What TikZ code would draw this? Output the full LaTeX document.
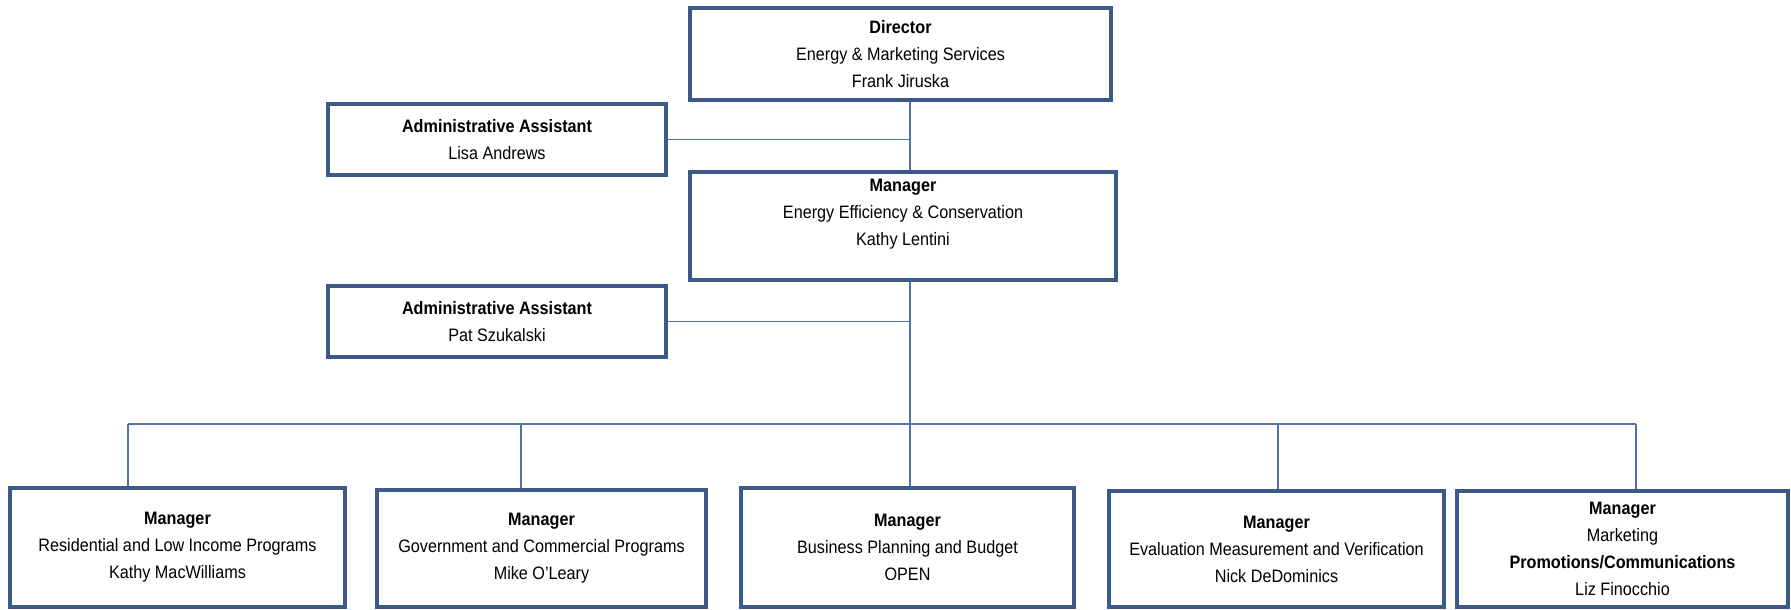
\documentclass[tikz,border=0pt]{standalone}
\usepackage{fontspec}
\setmainfont[FakeStretch=0.9]{Liberation Sans}
\usepackage{tikz}
\definecolor{boxblue}{RGB}{60,90,135}
\definecolor{lineblue}{RGB}{79,114,170}
\tikzset{
  orgbox/.style={draw=boxblue, line width=4pt, fill=white, rectangle, inner sep=0pt,
    align=center, font=\fontsize{18}{27}\selectfont},
  orgline/.style={draw=lineblue, line width=1.8pt}
}

\begin{document}
\begin{tikzpicture}[x=1pt,y=-1pt]
    \useasboundingbox (0,0) rectangle (1791,610);

    \node[orgbox, minimum width=421pt, minimum height=92pt] (dir) at (900.5,54)
      {\textbf{Director}\\Energy \& Marketing Services\\Frank Jiruska};
    \node[orgbox, minimum width=338pt, minimum height=71pt] (admA) at (497,139.5)
      {\textbf{Administrative Assistant}\\Lisa Andrews};
    \node[orgbox, minimum width=426pt, minimum height=108pt] (mgr) at (903,226)
      {\textbf{Manager}\\Energy Efficiency \& Conservation\\Kathy Lentini\\ };
    \node[orgbox, minimum width=338pt, minimum height=71pt] (admB) at (497,321.5)
      {\textbf{Administrative Assistant}\\Pat Szukalski};

    \node[orgbox, minimum width=335pt, minimum height=119pt] (resi) at (177.5,547.5)
      {\textbf{Manager}\\Residential and Low Income Programs\\Kathy MacWilliams};
    \node[orgbox, minimum width=329pt, minimum height=117pt] (govt) at (541.5,548.5)
      {\textbf{Manager}\\Government and Commercial Programs\\Mike O'Leary};
    \node[orgbox, minimum width=333pt, minimum height=119pt] (budget) at (907.5,547.5)
      {\textbf{Manager}\\Business Planning and Budget\\OPEN};
    \node[orgbox, minimum width=335pt, minimum height=116pt] (emv) at (1276.5,549)
      {\textbf{Manager}\\Evaluation Measurement and Verification\\Nick DeDominics};
    \node[orgbox, minimum width=331pt, minimum height=116pt] (mktg) at (1622.5,549)
      {\textbf{Manager}\\Marketing\\\textbf{Promotions/Communications}\\Liz Finocchio};

    % trunk and bus
    \coordinate (bus) at (910,424);
    \coordinate (dropA) at (128,424);
    \coordinate (dropB) at (521,424);
    \coordinate (dropD) at (1278,424);
    \coordinate (dropE) at (1636,424);

    \draw[orgline] (dir.south -| bus) -- (mgr.north -| bus);
    \draw[orgline] (admA.east) -- (admA.east -| bus);
    \draw[orgline] (mgr.south -| bus) -- (budget.north -| bus);
    \draw[orgline] (admB.east) -- (admB.east -| bus);
    \draw[orgline] (dropA) -- (dropE);
    \draw[orgline] (dropA) -- (dropA |- resi.north);
    \draw[orgline] (dropB) -- (dropB |- govt.north);
    \draw[orgline] (dropD) -- (dropD |- emv.north);
    \draw[orgline] (dropE) -- (dropE |- mktg.north);
  \end{tikzpicture}
\end{document}
